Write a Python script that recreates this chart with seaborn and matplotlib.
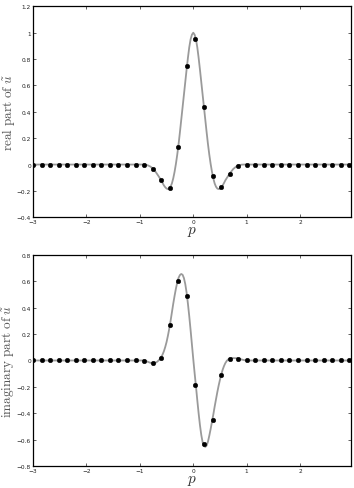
import numpy as np
import pandas as pd
import matplotlib
matplotlib.use("Agg")
import matplotlib.pyplot as plt
import seaborn as sns

# sample grid (dots)
p_dots = [-3.00, -2.84, -2.68, -2.52, -2.36, -2.20, -2.04, -1.88, -1.72, -1.56,
          -1.40, -1.24, -1.08, -0.92, -0.76, -0.60, -0.44, -0.28, -0.12, 0.04,
          0.20, 0.36, 0.52, 0.68, 0.84, 1.00, 1.16, 1.32, 1.48, 1.64,
          1.80, 1.96, 2.12, 2.28, 2.44, 2.60, 2.76, 2.92]
real_dots = [0, 0, 0, 0, 0, 0, 0, 0, 0, 0,
             0, 0, 0, 0.0, -0.03, -0.12, -0.18, 0.13, 0.75, 0.955,
             0.435, -0.09, -0.17, -0.07, -0.01, 0, 0, 0, 0, 0,
             0, 0, 0, 0, 0, 0, 0, 0]
imag_dots = [0, 0, 0, 0, 0, 0, 0, 0, 0, 0,
             0, 0, 0, -0.005, -0.02, 0.02, 0.27, 0.60, 0.49, -0.185,
             -0.635, -0.45, -0.11, 0.015, 0.015, 0, 0, 0, 0, 0,
             0, 0, 0, 0, 0, 0, 0, 0]

# continuous curve samples (real part)
p_real_curve = [-3.00, -0.95, -0.90, -0.85, -0.80, -0.75, -0.70, -0.65,
                -0.600, -0.575, -0.550, -0.525, -0.500, -0.475, -0.450, -0.425,
                -0.400, -0.375, -0.350, -0.325, -0.300, -0.275, -0.250, -0.225,
                -0.200, -0.175, -0.150, -0.125, -0.100, -0.075, -0.050, -0.025,
                0.000, 0.025, 0.050, 0.075, 0.100, 0.125, 0.150, 0.175,
                0.200, 0.225, 0.250, 0.275, 0.300, 0.325, 0.350, 0.375,
                0.400, 0.425, 0.450, 0.475, 0.500, 0.525, 0.550, 0.575,
                0.600, 0.65, 0.70, 0.75, 0.80, 0.85, 0.90, 0.95, 2.95]
real_curve = [0.0, 0.0, -0.001, -0.006, -0.016, -0.033, -0.058, -0.088,
              -0.120, -0.140, -0.158, -0.172, -0.182, -0.186, -0.182, -0.168,
              -0.143, -0.105, -0.055, 0.005, 0.075, 0.155, 0.245, 0.340,
              0.435, 0.530, 0.625, 0.720, 0.810, 0.890, 0.950, 0.985,
              1.000, 0.985, 0.950, 0.890, 0.810, 0.720, 0.625, 0.530,
              0.435, 0.340, 0.245, 0.155, 0.075, 0.005, -0.055, -0.105,
              -0.143, -0.168, -0.182, -0.186, -0.182, -0.172, -0.158, -0.140,
              -0.120, -0.088, -0.058, -0.033, -0.016, -0.006, -0.001, 0.0, 0.0]

# continuous curve samples (imaginary part)
p_imag_curve = [-3.00, -0.95, -0.90, -0.85, -0.80, -0.75,
                -0.700, -0.675, -0.650, -0.625, -0.600, -0.575, -0.550, -0.525,
                -0.500, -0.475, -0.450, -0.425, -0.400, -0.375, -0.350, -0.325,
                -0.300, -0.275, -0.250, -0.225, -0.200, -0.175, -0.150, -0.125,
                -0.100, -0.075, -0.050, -0.025, 0.000, 0.025, 0.050, 0.075,
                0.100, 0.125, 0.150, 0.175, 0.200, 0.225, 0.250, 0.275,
                0.300, 0.325, 0.350, 0.375, 0.400, 0.425, 0.450, 0.475,
                0.500, 0.525, 0.550, 0.575, 0.600, 0.625, 0.650, 0.675,
                0.700, 0.75, 0.80, 0.85, 0.90, 0.95, 1.00, 2.95]
imag_curve = [0.0, 0.0, -0.003, -0.010, -0.018, -0.021,
              -0.016, -0.009, 0.000, 0.012, 0.026, 0.045, 0.070, 0.102,
              0.140, 0.187, 0.240, 0.300, 0.365, 0.430, 0.490, 0.545,
              0.592, 0.627, 0.648, 0.656, 0.650, 0.625, 0.580, 0.515,
              0.430, 0.335, 0.230, 0.120, 0.010, -0.095, -0.195, -0.300,
              -0.400, -0.490, -0.565, -0.620, -0.648, -0.655, -0.645, -0.615,
              -0.570, -0.520, -0.465, -0.410, -0.350, -0.295, -0.240, -0.190,
              -0.145, -0.105, -0.070, -0.042, -0.020, -0.004, 0.007, 0.013,
              0.016, 0.018, 0.017, 0.014, 0.008, 0.003, 0.0, 0.0]

x_ticks = [-3, -2, -1, 0, 1, 2]
x_ticklabels = ["\u22123", "\u22122", "\u22121", "0", "1", "2"]
y_ticks_top = [-0.4, -0.2, 0, 0.2, 0.4, 0.6, 0.8, 1.0, 1.2]
y_ticklabels_top = ["\u22120.4", "\u22120.2", "0", "0.2", "0.4", "0.6", "0.8", "1", "1.2"]
y_ticks_bot = [-0.8, -0.6, -0.4, -0.2, 0, 0.2, 0.4, 0.6, 0.8]
y_ticklabels_bot = ["\u22120.8", "\u22120.6", "\u22120.4", "\u22120.2", "0", "0.2", "0.4", "0.6", "0.8"]

sns.set_style("ticks")
plt.rcParams["mathtext.fontset"] = "cm"
plt.rcParams["font.family"] = ["DejaVu Sans"]

fig = plt.figure(figsize=(3.54, 4.89), dpi=100)
ax1 = fig.add_axes([0.0932, 0.5536, 0.898, 0.4314])
ax2 = fig.add_axes([0.0932, 0.0450, 0.898, 0.4315])

df_real = pd.DataFrame({"p": p_real_curve, "v": real_curve})
df_imag = pd.DataFrame({"p": p_imag_curve, "v": imag_curve})
df_dots = pd.DataFrame({"p": p_dots, "re": real_dots, "im": imag_dots})

panels = [
    (ax1, df_real, "re", (-0.4, 1.2), y_ticks_top, y_ticklabels_top,
     r"$\mathrm{real\ part\ of\ }\tilde{u}$"),
    (ax2, df_imag, "im", (-0.8, 0.8), y_ticks_bot, y_ticklabels_bot,
     r"$\mathrm{imaginary\ part\ of\ }\tilde{u}$"),
]

for ax, dfc, col, ylim, yt, ytl, ylab in panels:
    sns.lineplot(data=dfc, x="p", y="v", ax=ax, color="#9a9a9a",
                 linewidth=1.3, sort=False, zorder=2)
    sns.scatterplot(data=df_dots, x="p", y=col, ax=ax, color="black",
                    s=11, edgecolor="black", linewidth=0.3, zorder=3)
    ax.set_xlim(-3, 2.95)
    ax.set_ylim(*ylim)
    ax.set_xticks(x_ticks)
    ax.set_xticklabels(x_ticklabels)
    ax.set_yticks(yt)
    ax.set_yticklabels(ytl)
    ax.tick_params(direction="in", length=2.5, width=0.5, labelsize=4.2,
                   top=True, right=True, pad=1.5, colors="#222222")
    for s in ax.spines.values():
        s.set_visible(True)
        s.set_linewidth(0.9)
        s.set_color("black")
    ax.set_xlabel(r"$p$", fontsize=11, labelpad=-1, color="#333333")
    ax.set_ylabel(ylab, fontsize=9.5, labelpad=0, color="#555555")
    ax.yaxis.set_label_coords(-0.05, 0.5)

fig.savefig("out.png", dpi=100)
